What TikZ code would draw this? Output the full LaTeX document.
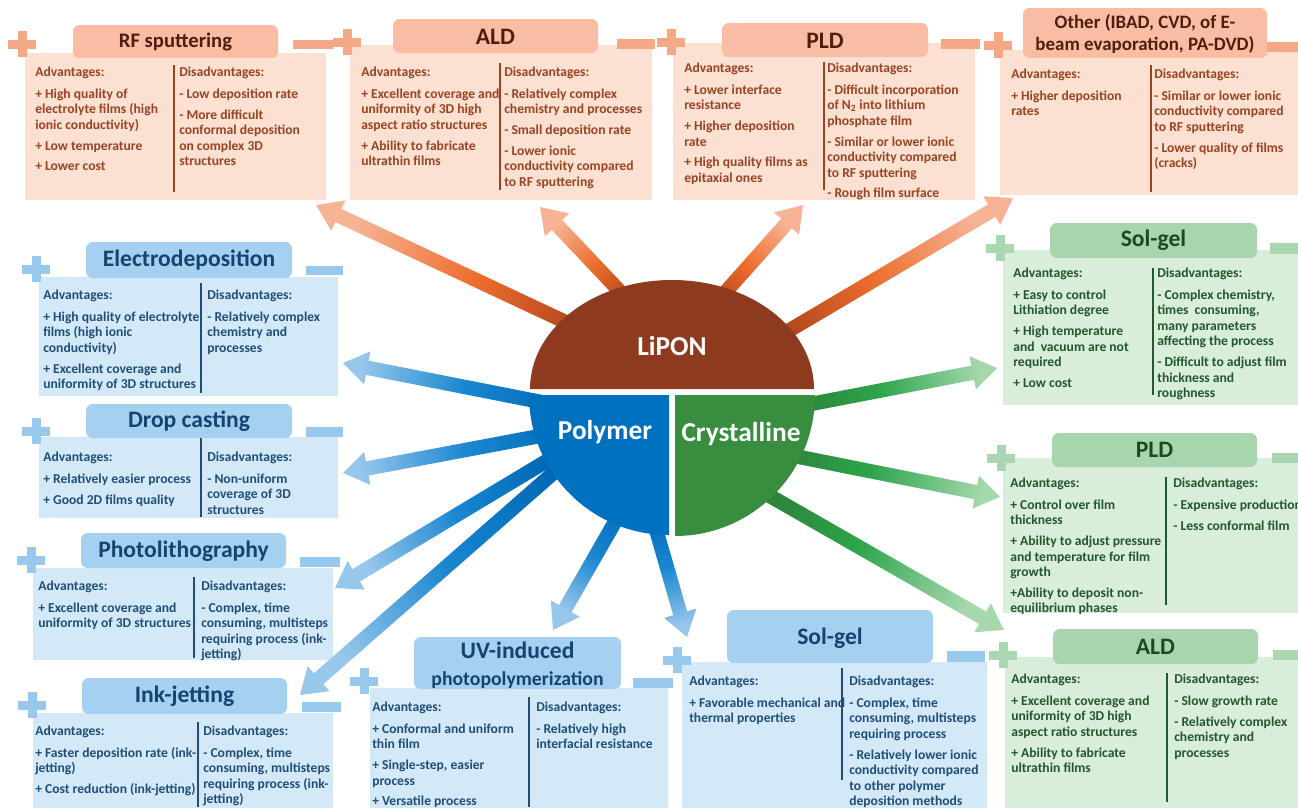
\documentclass[tikz,border=0pt]{standalone}
\usepackage{fontspec}
\setmainfont{Carlito}
\definecolor{obody}{RGB}{252,224,209}
\definecolor{otab}{RGB}{248,189,162}
\definecolor{omark}{RGB}{245,168,134}
\definecolor{otext}{RGB}{152,68,34}
\definecolor{otitle}{RGB}{80,30,16}
\definecolor{bbody}{RGB}{212,233,248}
\definecolor{btab}{RGB}{165,208,239}
\definecolor{bmark}{RGB}{152,200,236}
\definecolor{btext}{RGB}{31,78,121}
\definecolor{btitle}{RGB}{24,66,112}
\definecolor{gbody}{RGB}{216,237,218}
\definecolor{gtab}{RGB}{168,213,174}
\definecolor{gmark}{RGB}{170,215,178}
\definecolor{gtext}{RGB}{34,88,44}
\definecolor{gtitle}{RGB}{28,72,34}
\definecolor{lipon}{RGB}{142,58,30}
\definecolor{polymer}{RGB}{0,112,192}
\definecolor{cryst}{RGB}{56,141,62}
\definecolor{oA}{RGB}{165,62,25}
\definecolor{oB}{RGB}{236,108,44}
\definecolor{oC}{RGB}{247,180,148}
\definecolor{bA}{RGB}{0,104,182}
\definecolor{bB}{RGB}{24,134,208}
\definecolor{bC}{RGB}{152,199,236}
\definecolor{gA}{RGB}{44,122,54}
\definecolor{gB}{RGB}{44,164,74}
\definecolor{gC}{RGB}{165,216,172}
\newcommand\bodyfont{\fontsize{10.2}{11.6}\selectfont\bfseries}
\newcommand\titlefont{\fontsize{17.7}{20}\selectfont\bfseries}
\newcommand\plusmark[3]{\fill[#1] (#2-14,#3-4.5) rectangle (#2+14,#3+4.5);
  \fill[#1] (#2-4.5,#3-13) rectangle (#2+4.5,#3+13);}
\newcommand\garrow[5]{%
  \pgfpointdiff{\pgfpointanchor{#1}{center}}{\pgfpointanchor{#2}{center}}%
  \pgfgetlastxy{\gdx}{\gdy}%
  \pgfmathsetmacro\gang{atan2(\gdy,\gdx)}%
  \pgfmathsetmacro\glen{veclen(\gdx,\gdy)}%
  \pgfmathsetmacro\gsh{\gang-90}%
  \pgfmathsetmacro\gb{\glen-18.5}%
  \begin{scope}[shift={(#1)},rotate=\gang]
    \shade[top color=#5,bottom color=#3,middle color=#4,shading angle=\gsh]
      (0pt,-5.4pt) -- (\gb pt,-5.4pt) -- (\gb pt,-12.5pt) -- (\glen pt,0pt)
      -- (\gb pt,12.5pt) -- (\gb pt,5.4pt) -- (0pt,5.4pt) -- cycle;
  \end{scope}}
\tikzset{
  every node/.style={inner sep=0pt},
  txt/.style={anchor=north west,align=left,font=\bodyfont},
  ttl/.style={align=center,font=\titlefont},
  rtab/.style={rounded corners=5pt},
  cen/.style={text=white,font=\fontsize{20.5}{24}\selectfont\bfseries}
}
\begin{document}
\begin{tikzpicture}[x=0.75pt,y=-0.75pt]
\fill[white] (0,0) rectangle (1298,808);
\useasboundingbox (0,0) rectangle (1298,808);

% ---------------- orange (LiPON) boxes ----------------
% RF sputtering
\fill[obody] (25,53) rectangle (326,200);
\fill[otab,rtab] (73,25) rectangle (278,58);
\plusmark{omark}{22}{44}
\fill[omark] (293,40) rectangle (333,49);
\draw[otext,line width=0.8pt] (174,65) -- (174,192);
\node[ttl,text=otitle,font=\fontsize{15.5}{18}\selectfont\bfseries] (rfT) at (175.5,42) {RF sputtering};
\node[txt,text=otext] (rfA) at (35,66.5) {Advantages:\\[5pt]+ High quality of\\electrolyte films (high\\ionic conductivity)\\[4pt]+ Low temperature\\[4pt]+ Lower cost};
\node[txt,text=otext] (rfD) at (179,66.5) {Disadvantages:\\[5pt]- Low deposition rate\\[4pt]- More difficult\\conformal deposition\\on complex 3D\\structures};
% ALD
\fill[obody] (350,45) rectangle (652,200);
\fill[otab,rtab] (393,19) rectangle (598,53);
\plusmark{omark}{347}{42}
\fill[omark] (617,39) rectangle (655,49);
\draw[otext,line width=0.8pt] (500,63) -- (500,190);
\node[ttl,text=otitle] (aldT) at (495.5,36.5) {ALD};
\node[txt,text=otext] (aldA) at (361,66.5) {Advantages:\\[5pt]+ Excellent coverage and\\uniformity of 3D high\\aspect ratio structures\\[4pt]+ Ability to fabricate\\ultrathin films};
\node[txt,text=otext] (aldD) at (504,66.5) {Disadvantages:\\[5pt]- Relatively complex\\chemistry and processes\\[4pt]- Small deposition rate\\[4pt]- Lower ionic\\conductivity compared\\to RF sputtering};
% PLD
\fill[obody] (673,43) rectangle (975,200);
\fill[otab,rtab] (722,23) rectangle (928,57);
\plusmark{omark}{671}{42}
\fill[omark] (941,39) rectangle (980,49);
\draw[otext,line width=0.8pt] (824,62) -- (824,190);
\node[ttl,text=otitle] (pldT) at (825,40.5) {PLD};
\node[txt,text=otext] (pldA) at (684,62.5) {Advantages:\\[5pt]+ Lower interface\\resistance\\[4pt]+ Higher deposition\\rate\\[4pt]+ High quality films as\\epitaxial ones};
\node[txt,text=otext] (pldD) at (827,62.5) {Disadvantages:\\[5pt]- Difficult incorporation\\of N\textsubscript{2} into lithium\\phosphate film\\[4pt]- Similar or lower ionic\\conductivity compared\\to RF sputtering\\[4pt]- Rough film surface};
% Other
\fill[obody] (1000,50) rectangle (1298,195);
\fill[otab,rtab] (1023,8) rectangle (1267,58);
\plusmark{omark}{998}{45}
\fill[omark] (1267,42) rectangle (1298,52);
\draw[otext,line width=0.8pt] (1151,65) -- (1151,192);
\node[ttl,text=otitle,font=\fontsize{14.2}{17}\selectfont\bfseries] (othT) at (1145,34) {Other (IBAD, CVD, of E-\\beam evaporation, PA-DVD)};
\node[txt,text=otext] (othA) at (1011,68.5) {Advantages:\\[5pt]+ Higher deposition\\rates};
\node[txt,text=otext] (othD) at (1154,68.5) {Disadvantages:\\[5pt]- Similar or lower ionic\\conductivity compared\\to RF sputtering\\[4pt]- Lower quality of films\\(cracks)};

% ---------------- blue (Polymer) boxes ----------------
% Electrodeposition
\fill[bbody] (39,277) rectangle (338,396);
\fill[btab,rtab] (86,242) rectangle (292,278);
\plusmark{bmark}{36}{269}
\fill[bmark] (306,266) rectangle (343,275);
\draw[btext,line width=0.8pt] (201,283) -- (201,393);
\node[ttl,text=btitle] (elT) at (189,260) {Electrodeposition};
\node[txt,text=btext] (elA) at (43,289.5) {Advantages:\\[5pt]+ High quality of electrolyte\\films (high ionic\\conductivity)\\[4pt]+ Excellent coverage and\\uniformity of 3D structures};
\node[txt,text=btext] (elD) at (207,289.5) {Disadvantages:\\[5pt]- Relatively complex\\chemistry and\\processes};
% Drop casting
\fill[bbody] (39,437) rectangle (338,518);
\fill[btab,rtab] (86,404) rectangle (292,438);
\plusmark{bmark}{36}{431}
\fill[bmark] (306,427) rectangle (343,437);
\draw[btext,line width=0.8pt] (201,438) -- (201,517);
\node[ttl,text=btitle] (drT) at (189,421) {Drop casting};
\node[txt,text=btext] (drA) at (43,451.5) {Advantages:\\[5pt]+ Relatively easier process\\[4pt]+ Good 2D films quality};
\node[txt,text=btext] (drD) at (207,451.5) {Disadvantages:\\[5pt]- Non-uniform\\coverage of 3D\\structures};
% Photolithography
\fill[bbody] (33,568) rectangle (333,660);
\fill[btab,rtab] (81,533) rectangle (286,568);
\plusmark{bmark}{31}{560}
\fill[bmark] (300,557) rectangle (340,567);
\draw[btext,line width=0.8pt] (194,577) -- (194,658);
\node[ttl,text=btitle] (phT) at (183.5,551) {Photolithography};
\node[txt,text=btext] (phA) at (38,580.5) {Advantages:\\[5pt]+ Excellent coverage and\\uniformity of 3D structures};
\node[txt,text=btext] (phD) at (201,580.5) {Disadvantages:\\[5pt]- Complex, time\\consuming, multisteps\\requiring process (ink-\\jetting)};
% Ink-jetting
\fill[bbody] (33,713) rectangle (333,808);
\fill[btab,rtab] (82,678) rectangle (287,714);
\plusmark{bmark}{32}{705}
\fill[bmark] (302,702) rectangle (341,712);
\draw[btext,line width=0.8pt] (198,722) -- (198,807);
\node[ttl,text=btitle] (ijT) at (184.5,696) {Ink-jetting};
\node[txt,text=btext] (ijA) at (35,725.5) {Advantages:\\[5pt]+ Faster deposition rate (ink-\\jetting)\\[4pt]+ Cost reduction (ink-jetting)};
\node[txt,text=btext] (ijD) at (203,725.5) {Disadvantages:\\[5pt]- Complex, time\\consuming, multisteps\\requiring process (ink-\\jetting)};
% UV-induced
\fill[bbody] (370,688) rectangle (668,808);
\fill[btab,rtab] (414,637) rectangle (621,689);
\plusmark{bmark}{364}{681}
\fill[bmark] (633,678) rectangle (673,688);
\draw[btext,line width=0.8pt] (529,697) -- (529,807);
\node[ttl,text=btitle] (uvT) at (517.5,650) {UV-induced};
\node[ttl,text=btitle,font=\fontsize{14.8}{17}\selectfont\bfseries] (uvT2) at (517.5,680) {photopolymerization};
\node[txt,text=btext] (uvA) at (372,701.5) {Advantages:\\[5pt]+ Conformal and uniform\\thin film\\[4pt]+ Single-step, easier\\process\\[4pt]+ Versatile process};
\node[txt,text=btext] (uvD) at (536,701.5) {Disadvantages:\\[5pt]- Relatively high\\interfacial resistance};
% Sol-gel (blue)
\fill[bbody] (682,662) rectangle (987,808);
\fill[btab,rtab] (727,610) rectangle (933,663);
\plusmark{bmark}{677}{660}
\fill[bmark] (947,651) rectangle (985,662);
\draw[btext,line width=0.8pt] (842,668) -- (842,780);
\node[ttl,text=btitle] (sbT) at (830,638) {Sol-gel};
\node[txt,text=btext] (sbA) at (689,675.5) {Advantages:\\[5pt]+ Favorable mechanical and\\thermal properties};
\node[txt,text=btext] (sbD) at (849,675.5) {Disadvantages:\\[5pt]- Complex, time\\consuming, multisteps\\requiring process\\[4pt]- Relatively lower ionic\\conductivity compared\\to other polymer\\deposition methods};

% ---------------- green (Crystalline) boxes ----------------
% Sol-gel
\fill[gbody] (1003,250) rectangle (1298,405);
\fill[gtab,rtab] (1050,223) rectangle (1257,258);
\plusmark{gmark}{1000}{248}
\fill[gmark] (1270,243) rectangle (1298,254);
\draw[gtext,line width=0.8pt] (1153,268) -- (1153,395);
\node[ttl,text=gtitle] (sgT) at (1153.5,240.5) {Sol-gel};
\node[txt,text=gtext] (sgA) at (1013,267.5) {Advantages:\\[5pt]+ Easy to control\\Lithiation degree\\[4pt]+ High temperature\\and~ vacuum are not\\required\\[4pt]+ Low cost};
\node[txt,text=gtext] (sgD) at (1157,267.5) {Disadvantages:\\[5pt]- Complex chemistry,\\times~ consuming,\\many parameters\\affecting the process\\[4pt]- Difficult to adjust film\\thickness and\\roughness};
% PLD
\fill[gbody] (1003,458) rectangle (1298,613);
\fill[gtab,rtab] (1052,433) rectangle (1257,467);
\plusmark{gmark}{1001}{458}
\fill[gmark] (1272,453) rectangle (1298,463);
\draw[gtext,line width=0.8pt] (1166,477) -- (1166,605);
\node[ttl,text=gtitle] (gpT) at (1154.5,450) {PLD};
\node[txt,text=gtext] (gpA) at (1010,477.5) {Advantages:\\[5pt]+ Control over film\\thickness\\[4pt]+ Ability to adjust pressure\\and temperature for film\\growth\\[4pt]+Ability to deposit non-\\equilibrium phases};
\node[txt,text=gtext] (gpD) at (1173,477.5) {Disadvantages:\\[5pt]- Expensive production\\[4pt]- Less conformal film};
% ALD
\fill[gbody] (1005,657) rectangle (1298,808);
\fill[gtab,rtab] (1053,629) rectangle (1258,664);
\plusmark{gmark}{1003}{655}
\fill[gmark] (1273,650) rectangle (1298,660);
\draw[gtext,line width=0.8pt] (1167,673) -- (1167,802);
\node[ttl,text=gtitle] (gaT) at (1155.5,646.5) {ALD};
\node[txt,text=gtext] (gaA) at (1011,673.5) {Advantages:\\[5pt]+ Excellent coverage and\\uniformity of 3D high\\aspect ratio structures\\[4pt]+ Ability to fabricate\\ultrathin films};
\node[txt,text=gtext] (gaD) at (1174,673.5) {Disadvantages:\\[5pt]- Slow growth rate\\[4pt]- Relatively complex\\chemistry and\\processes};

% ---------------- arrows ----------------
\coordinate (o1s) at (636,355); \coordinate (o1e) at (316,205);
\coordinate (o2s) at (646,319); \coordinate (o2e) at (540,207);
\coordinate (o3s) at (697,324); \coordinate (o3e) at (803,205);
\coordinate (o4s) at (734,363); \coordinate (o4e) at (1013,198);
\coordinate (b5s) at (587,411); \coordinate (b5e) at (343,363);
\coordinate (b6s) at (593,426); \coordinate (b6e) at (343,473);
\coordinate (b7s) at (575,444); \coordinate (b7e) at (335,588);
\coordinate (b8s) at (591,440); \coordinate (b8e) at (300,695);
\coordinate (b9s) at (635,487); \coordinate (b9e) at (553,630);
\coordinate (b10s) at (647,498); \coordinate (b10e) at (687,637);
\coordinate (g11s) at (759,414); \coordinate (g11e) at (997,368);
\coordinate (g12s) at (739,445); \coordinate (g12e) at (1000,497);
\coordinate (g13s) at (714,464); \coordinate (g13e) at (1004,630);
\garrow{o1s}{o1e}{oA}{oB}{oC}
\garrow{o2s}{o2e}{oA}{oB}{oC}
\garrow{o3s}{o3e}{oA}{oB}{oC}
\garrow{o4s}{o4e}{oA}{oB}{oC}
\garrow{b5s}{b5e}{bA}{bB}{bC}
\garrow{b6s}{b6e}{bA}{bB}{bC}
\garrow{b7s}{b7e}{bA}{bB}{bC}
\garrow{b8s}{b8e}{bA}{bB}{bC}
\garrow{b9s}{b9e}{bA}{bB}{bC}
\garrow{b10s}{b10e}{bA}{bB}{bC}
\garrow{g11s}{g11e}{gA}{gB}{gC}
\garrow{g12s}{g12e}{gA}{gB}{gC}
\garrow{g13s}{g13e}{gA}{gB}{gC}

% ---------------- centre ----------------
\fill[lipon] (530,389) arc[start angle=180,end angle=0,x radius=106.5pt,y radius=81.75pt] -- cycle;
\fill[polymer] (669,395) -- (529,395) arc[start angle=180,end angle=270,x radius=105pt,y radius=105pt] -- cycle;
\fill[cryst] (675,395) -- (815,395) arc[start angle=0,end angle=-90,x radius=105pt,y radius=105.75pt] -- cycle;
\node[cen] (lipT) at (672,346) {LiPON};
\node[cen] (polT) at (605,432) {Polymer};
\node[cen] (cryT) at (741,434) {Crystalline};
\end{tikzpicture}
\end{document}
